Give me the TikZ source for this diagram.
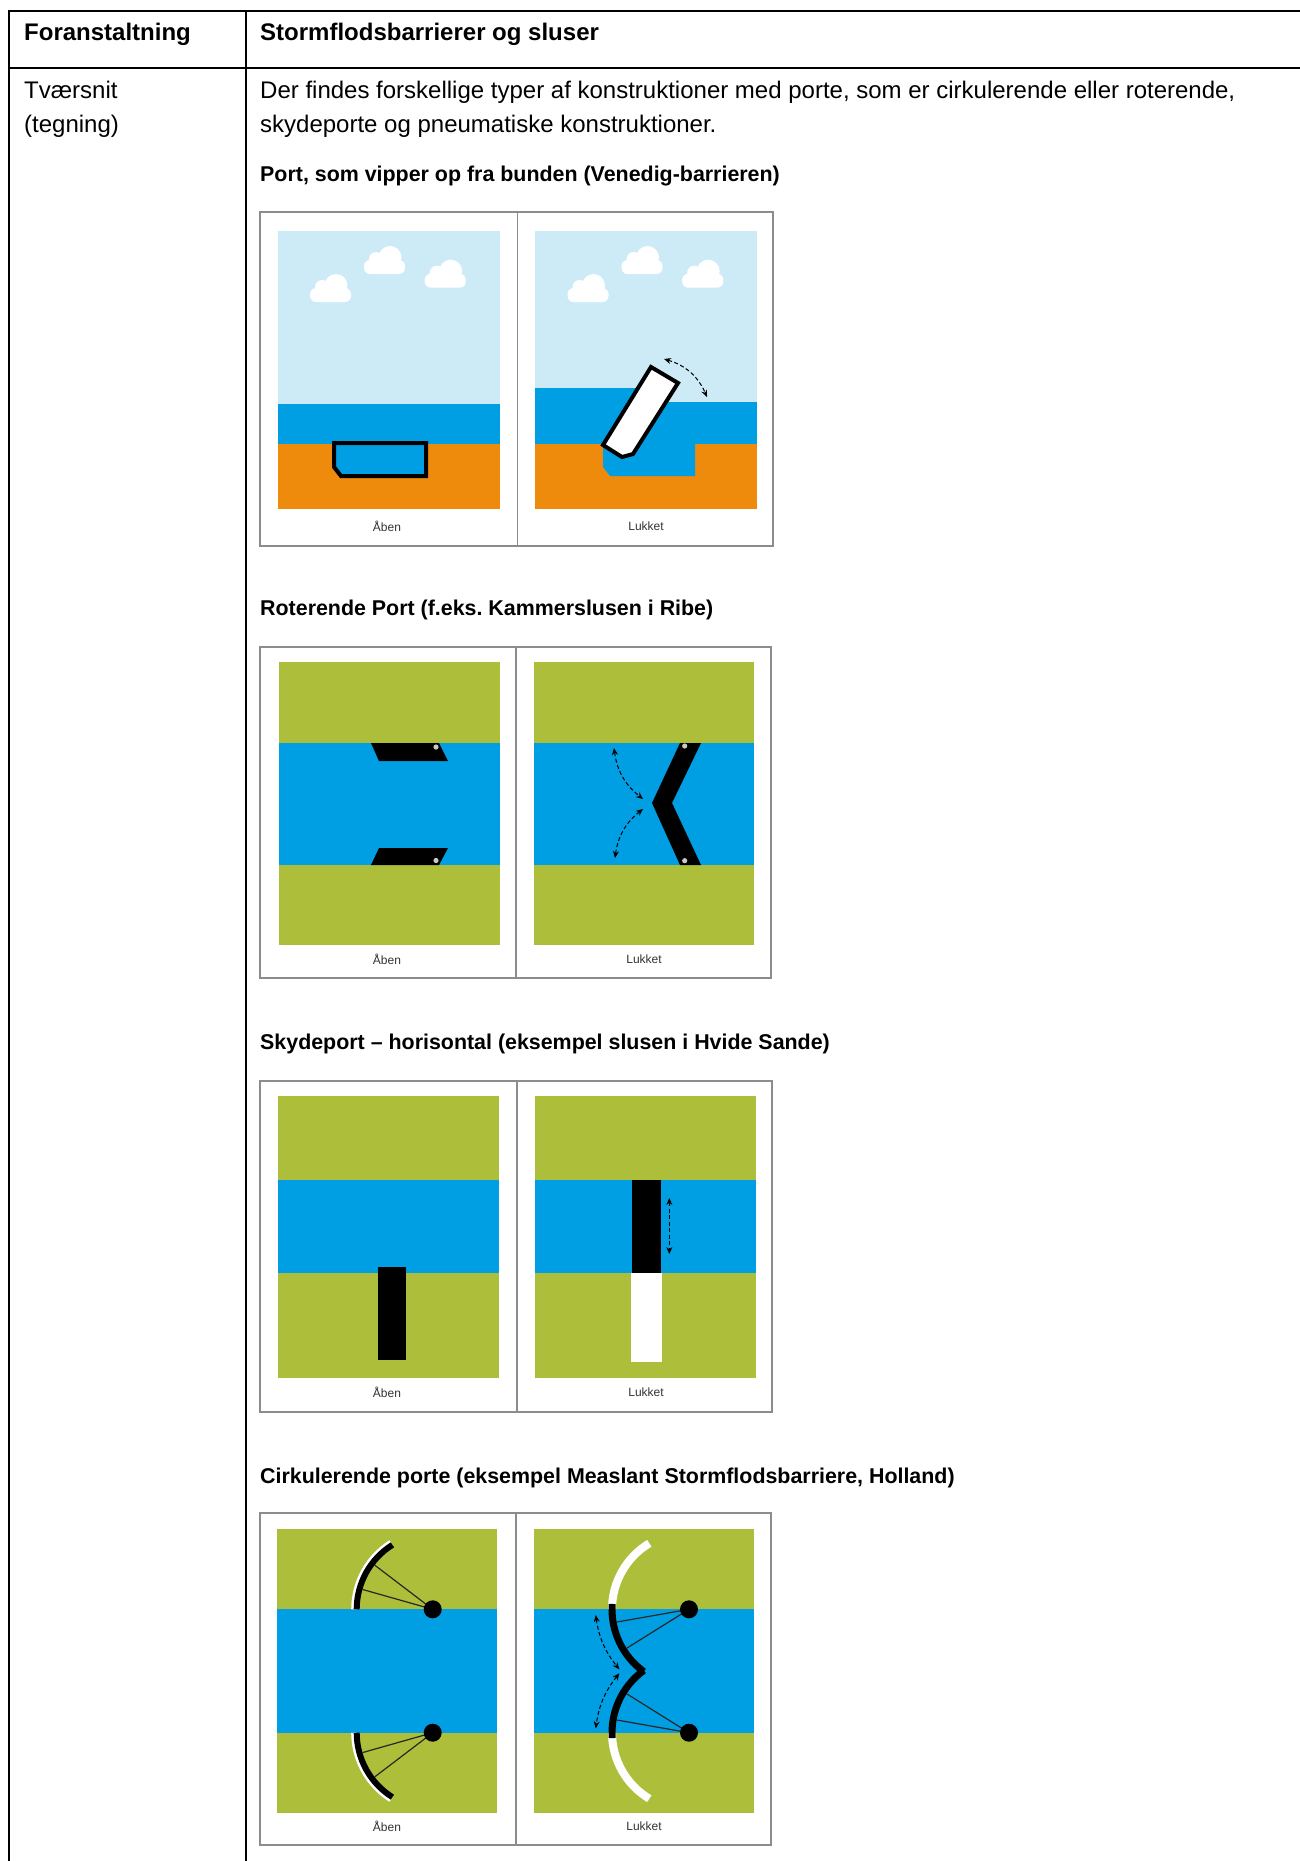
\documentclass[tikz,border=0pt]{standalone}
\usepackage{fontspec}
\setmainfont{Liberation Sans}
\usetikzlibrary{positioning,arrows.meta}
\frenchspacing

\definecolor{skyblue}{RGB}{205,234,247}
\definecolor{seablue}{RGB}{0,159,227}
\definecolor{sandorange}{RGB}{238,139,12}
\definecolor{grassgreen}{RGB}{173,191,58}
\definecolor{framegray}{RGB}{140,140,140}
\definecolor{pingray}{RGB}{200,200,200}

\tikzset{
  rule/.style={line width=2pt},
  panelframe/.style={draw=framegray, line width=1.2pt},
  bodytext/.style={anchor=base west, inner sep=0pt, font=\fontsize{24}{28}\selectfont},
  headtext/.style={anchor=base west, inner sep=0pt, font=\fontsize{24}{28}\selectfont\bfseries},
  subhead/.style={anchor=base west, inner sep=0pt, font=\fontsize{21.4}{25}\selectfont\bfseries},
  caption/.style={inner sep=0pt, text=black!80, font=\fontsize{12}{14}\selectfont},
  move/.style={dash pattern=on 4pt off 2.5pt, line width=1pt,
    {Stealth[length=7pt,width=6pt]}-{Stealth[length=7pt,width=6pt]}},
  spoke/.style={line width=1.2pt, black!85},
}

\newcommand{\skycloud}[2]{%
  \begin{scope}[shift={(#1,#2)}]
    \fill[white, rounded corners=6pt] (0,0) rectangle (41,14);
    \fill[white] (26,16.5) circle (11.5);
    \fill[white] (12,15) circle (7);
  \end{scope}}

\begin{document}
\begin{tikzpicture}[x=1pt,y=1pt]
\useasboundingbox (0,0) rectangle (1300,-1861);

\draw[rule] (1300,-11) -- (9,-11) -- (9,-1861);
\draw[rule] (9,-68) -- (1300,-68);
\draw[rule] (246,-11) -- (246,-1861);

\node[headtext] (colA) at (24,-40) {Foranstaltning};
\node[headtext] (colB) at (260,-40) {Stormflodsbarrierer og sluser};
\node[bodytext] (rowA) at (24,-98) {Tværsnit};
\node[bodytext] (rowB) at (24,-132) {(tegning)};
\node[bodytext] (introA) at (260,-98) {Der findes forskellige typer af konstruktioner med porte, som er cirkulerende eller roterende,};
\node[bodytext] (introB) at (260,-132) {skydeporte og pneumatiske konstruktioner.};

% Venedig
\node[subhead] (tiltHead) at (260,-181) {Port, som vipper op fra bunden (Venedig-barrieren)};
\draw[panelframe] (260,-212) rectangle (773,-546);
\draw[panelframe] (517.5,-212) -- (517.5,-546);

\fill[skyblue] (278,-231) rectangle (500,-404);
\fill[seablue] (278,-404) rectangle (500,-444);
\fill[sandorange] (278,-444) rectangle (500,-509);
\skycloud{310}{-302}
\skycloud{364}{-274}
\skycloud{424.7}{-287.7}
\filldraw[fill=seablue, line width=4pt] (334,-443) -- (426,-443) -- (426,-476) -- (341,-476) -- (334,-467) -- cycle;
\node[caption] (tiltOpen) at (387,-526) {Åben};

\fill[skyblue] (535,-231) rectangle (757,-509);
\fill[seablue] (535,-388) rectangle (650,-444);
\fill[seablue] (650,-402) rectangle (757,-444);
\fill[sandorange] (535,-444) rectangle (757,-509);
\fill[seablue] (603,-443) -- (603,-467) -- (610,-476) -- (695,-476) -- (695,-443) -- cycle;
\skycloud{567.5}{-302}
\skycloud{621.5}{-274}
\skycloud{682.2}{-287.7}
\filldraw[fill=white, line width=4pt] (603,-445) -- (651,-367) -- (678,-383) -- (633,-454) -- (622,-457) -- cycle;
\coordinate (tiltA) at (664,-359);
\coordinate (tiltB) at (707,-397);
\draw[move] (tiltA) to[bend left=25] (tiltB);
\node[caption] (tiltShut) at (646,-526) {Lukket};

% Ribe
\node[subhead] (rotHead) at (260,-615) {Roterende Port (f.eks. Kammerslusen i Ribe)};
\draw[panelframe] (260,-647) rectangle (771,-978);
\draw[panelframe] (516,-647) -- (516,-978);

\fill[grassgreen] (279,-662) rectangle (500,-945);
\fill[seablue] (279,-743) rectangle (500,-865);
\fill (371,-743) -- (439,-743) -- (448,-761) -- (379,-761) -- cycle;
\fill (379,-848) -- (448,-848) -- (439,-865) -- (371,-865) -- cycle;
\fill[pingray] (436,-747) circle (2.6);
\fill[pingray] (436,-860.5) circle (2.6);
\node[caption] (rotOpen) at (387,-959) {Åben};

\fill[grassgreen] (534,-662) rectangle (754,-945);
\fill[seablue] (534,-743) rectangle (754,-865);
\fill (680,-743) -- (701,-743) -- (672,-803) -- (701,-865) -- (680,-865) -- (652,-803) -- cycle;
\fill[pingray] (684.7,-746) circle (2.6);
\fill[pingray] (684.7,-860.7) circle (2.6);
\coordinate (swingA) at (614,-748);
\coordinate (swingB) at (643,-799);
\coordinate (swingC) at (643,-809);
\coordinate (swingD) at (615,-858);
\draw[move] (swingA) to[bend right=22] (swingB);
\draw[move] (swingC) to[bend right=22] (swingD);
\node[caption] (rotShut) at (644,-959) {Lukket};

% Hvide Sande
\node[subhead] (slideHead) at (260,-1049) {Skydeport – horisontal (eksempel slusen i Hvide Sande)};
\draw[panelframe] (260,-1081) rectangle (772,-1412);
\draw[panelframe] (517,-1081) -- (517,-1412);

\fill[grassgreen] (278,-1096) rectangle (499,-1378);
\fill[seablue] (278,-1180) rectangle (499,-1273);
\fill (378,-1267) rectangle (406,-1360);
\node[caption] (slideOpen) at (387,-1392) {Åben};

\fill[grassgreen] (535,-1096) rectangle (756,-1378);
\fill[seablue] (535,-1180) rectangle (756,-1273);
\fill (632,-1180) rectangle (661,-1273);
\fill[white] (631,-1273) rectangle (662,-1362);
\coordinate (slideA) at (669.3,-1198);
\coordinate (slideB) at (669.3,-1254);
\draw[move] (slideA) -- (slideB);
\node[caption] (slideShut) at (646,-1392) {Lukket};

% Maeslant
\node[subhead] (circHead) at (260,-1483) {Cirkulerende porte (eksempel Measlant Stormflodsbarriere, Holland)};
\draw[panelframe] (260,-1513) rectangle (771,-1845);
\draw[panelframe] (516,-1513) -- (516,-1845);

\fill[grassgreen] (277,-1529) rectangle (497,-1813);
\fill[seablue] (277,-1609) rectangle (497,-1733);
\coordinate (hingeA) at (432.7,-1609.3);
\coordinate (hingeB) at (432.7,-1732.7);
\draw[white, line width=6pt] (hingeA) ++(122:78.5) arc[start angle=122, end angle=180, radius=78.5];
\draw[line width=6pt] (hingeA) ++(122:76) arc[start angle=122, end angle=180, radius=76];
\draw[white, line width=6pt] (hingeB) ++(180:78.5) arc[start angle=180, end angle=238, radius=78.5];
\draw[line width=6pt] (hingeB) ++(180:76) arc[start angle=180, end angle=238, radius=76];
\draw[spoke] (hingeA) -- ++(142.7:73);
\draw[spoke] (hingeA) -- ++(164.2:73);
\draw[spoke] (hingeB) -- ++(195.8:73);
\draw[spoke] (hingeB) -- ++(217.3:73);
\fill (hingeA) circle (9);
\fill (hingeB) circle (9);
\node[caption] (circOpen) at (387,-1826) {Åben};

\fill[grassgreen] (534,-1529) rectangle (754,-1813);
\fill[seablue] (534,-1609) rectangle (754,-1733);
\coordinate (hingeC) at (689,-1609.3);
\coordinate (hingeD) at (689,-1732.7);
\draw[white, line width=8pt] (hingeC) ++(121:77) arc[start angle=121, end angle=180, radius=77];
\draw[white, line width=8pt] (hingeD) ++(180:77) arc[start angle=180, end angle=239, radius=77];
\draw[line width=7pt] (hingeC) ++(176:77) arc[start angle=176, end angle=234, radius=77];
\draw[line width=7pt] (hingeD) ++(126:77) arc[start angle=126, end angle=184, radius=77];
\draw[spoke] (hingeC) -- ++(190:73);
\draw[spoke] (hingeC) -- ++(212:73);
\draw[spoke] (hingeD) -- ++(170:73);
\draw[spoke] (hingeD) -- ++(148:73);
\fill (hingeC) circle (9);
\fill (hingeD) circle (9);
\coordinate (turnA) at (595.7,-1615);
\coordinate (turnB) at (619.3,-1669.3);
\coordinate (turnC) at (619.3,-1673.3);
\coordinate (turnD) at (595.7,-1728.3);
\draw[move] (turnA) to[bend right=15] (turnB);
\draw[move] (turnC) to[bend right=15] (turnD);
\node[caption] (circShut) at (644,-1826) {Lukket};
\end{tikzpicture}
\end{document}
